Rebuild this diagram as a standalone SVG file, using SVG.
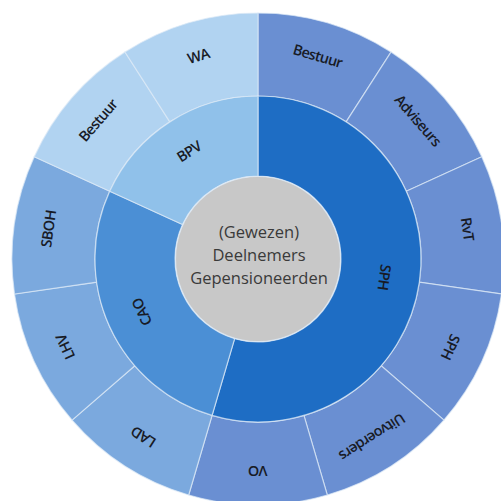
<svg xmlns="http://www.w3.org/2000/svg" xmlns:xlink="http://www.w3.org/1999/xlink" width="501" height="501" viewBox="0 0 501 501">
  <defs>
    <!-- one outer-ring sector of 360/11 degrees, drawn from 12 o'clock clockwise -->
    <path id="outerSeg" d="M0,-246 A246,246 0 0 1 132.997,-206.948 L88.124,-137.124 A163,163 0 0 0 0,-163 Z"/>
    <style>
      .seg { stroke: #dde9f6; stroke-opacity: 0.7; stroke-width: 1.2; }
      .o-sph { fill: #6a8fd2; }
      .o-cao { fill: #7ba9de; }
      .o-bpv { fill: #b1d3f1; }
      .m-sph { fill: #1e6dc4; }
      .m-cao { fill: #4b8fd5; }
      .m-bpv { fill: #90c1ea; }
      .lbl { font-family: "Open Sans", "Liberation Sans", sans-serif; font-size: 14.5px; font-weight: 600; letter-spacing: -0.7px; fill: #181b26; text-anchor: middle; dominant-baseline: central; }
      .ctr { font-family: "Open Sans", "Liberation Sans", sans-serif; font-size: 16.5px; font-weight: 500; fill: #3a3a3a; text-anchor: middle; }
    </style>
  </defs>

  <rect width="501" height="501" fill="#ffffff"/>

  <!-- outer ring -->
  <g id="outer-ring">
    <g id="sph-bestuur">
      <use xlink:href="#outerSeg" class="seg o-sph" transform="translate(258,259) rotate(0)"/>
      <text class="lbl" transform="translate(258,259) rotate(16.364) translate(0,-212)">Bestuur</text>
    </g>
    <g id="sph-adviseurs">
      <use xlink:href="#outerSeg" class="seg o-sph" transform="translate(258,259) rotate(32.727)"/>
      <text class="lbl" transform="translate(258,259) rotate(49.091) translate(0,-212)">Adviseurs</text>
    </g>
    <g id="sph-rvt">
      <use xlink:href="#outerSeg" class="seg o-sph" transform="translate(258,259) rotate(65.455)"/>
      <text class="lbl" transform="translate(258,259) rotate(81.818) translate(0,-212)">RvT</text>
    </g>
    <g id="sph-sph">
      <use xlink:href="#outerSeg" class="seg o-sph" transform="translate(258,259) rotate(98.182)"/>
      <text class="lbl" transform="translate(258,259) rotate(114.545) translate(0,-212)">SPH</text>
    </g>
    <g id="sph-uitvoerders">
      <use xlink:href="#outerSeg" class="seg o-sph" transform="translate(258,259) rotate(130.909)"/>
      <text class="lbl" transform="translate(258,259) rotate(147.273) translate(0,-212)">Uitvoerders</text>
    </g>
    <g id="sph-vo">
      <use xlink:href="#outerSeg" class="seg o-sph" transform="translate(258,259) rotate(163.636)"/>
      <text class="lbl" transform="translate(258,259) rotate(180) translate(0,-212)">VO</text>
    </g>
    <g id="cao-lad">
      <use xlink:href="#outerSeg" class="seg o-cao" transform="translate(258,259) rotate(196.364)"/>
      <text class="lbl" transform="translate(258,259) rotate(212.727) translate(0,-212)">LAD</text>
    </g>
    <g id="cao-lhv">
      <use xlink:href="#outerSeg" class="seg o-cao" transform="translate(258,259) rotate(229.091)"/>
      <text class="lbl" transform="translate(258,259) rotate(245.455) translate(0,-212)">LHV</text>
    </g>
    <g id="cao-sboh">
      <use xlink:href="#outerSeg" class="seg o-cao" transform="translate(258,259) rotate(261.818)"/>
      <text class="lbl" transform="translate(258,259) rotate(278.182) translate(0,-212)">SBOH</text>
    </g>
    <g id="bpv-bestuur">
      <use xlink:href="#outerSeg" class="seg o-bpv" transform="translate(258,259) rotate(294.545)"/>
      <text class="lbl" transform="translate(258,259) rotate(310.909) translate(0,-212)">Bestuur</text>
    </g>
    <g id="bpv-wa">
      <use xlink:href="#outerSeg" class="seg o-bpv" transform="translate(258,259) rotate(327.273)"/>
      <text class="lbl" transform="translate(258,259) rotate(343.636) translate(0,-212)">WA</text>
    </g>
  </g>

  <!-- middle ring -->
  <g id="middle-ring">
    <g id="sph">
      <path class="seg m-sph" d="M258,96 A163,163 0 1 1 212.078,415.397 L234.616,338.638 A83,83 0 1 0 258,176 Z"/>
      <text class="lbl" transform="translate(258,259) rotate(98.182) translate(0,-128)">SPH</text>
    </g>
    <g id="cao">
      <path class="seg m-cao" d="M212.078,415.397 A163,163 0 0 1 109.730,191.287 L182.501,224.520 A83,83 0 0 0 234.616,338.638 Z"/>
      <text class="lbl" transform="translate(258,259) rotate(245.455) translate(0,-128)">CAO</text>
    </g>
    <g id="bpv">
      <path class="seg m-bpv" d="M109.730,191.287 A163,163 0 0 1 258,96 L258,176 A83,83 0 0 0 182.501,224.520 Z"/>
      <text class="lbl" transform="translate(258,259) rotate(327.273) translate(0,-128)">BPV</text>
    </g>
  </g>

  <!-- centre -->
  <g id="centre">
    <circle cx="258" cy="259" r="82.5" fill="#c8c8c8" stroke="#dde9f6" stroke-opacity="0.7" stroke-width="1.2"/>
    <text class="ctr" x="259" y="237.5">(Gewezen)</text>
    <text class="ctr" x="259" y="260.5">Deelnemers</text>
    <text class="ctr" x="259" y="283.5">Gepensioneerden</text>
  </g>
</svg>
